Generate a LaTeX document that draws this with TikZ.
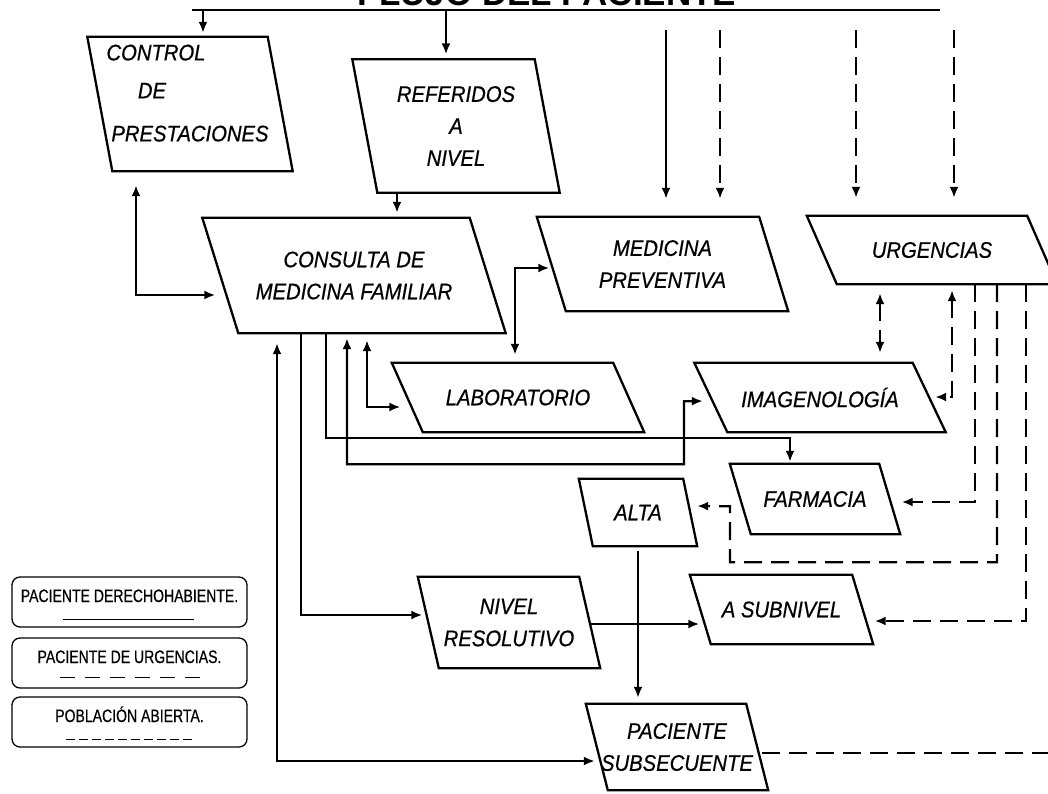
\documentclass[tikz,border=0pt]{standalone}
\usepackage{fontspec}
\setmainfont{Liberation Sans}
\newfontfamily\boxfont{Liberation Sans}[FakeStretch=0.9, FakeBold=0.6]
\newfontfamily\keyfont{Liberation Sans}[FakeStretch=0.78, FakeBold=0.5]
\usetikzlibrary{arrows.meta}

\begin{document}
\begin{tikzpicture}[x=1pt, y=-1pt,
    box/.style={inner sep=0pt, align=center,
                font=\boxfont\itshape\fontsize{22.5}{32}\selectfont},
    key/.style={draw, rounded corners=8pt, line width=1.3pt,
                minimum width=235pt, minimum height=50pt,
                text height=13pt, text depth=13pt,
                font=\keyfont\fontsize{18}{20}\selectfont},
    line/.style={line width=2.2pt},
    arr/.style={line, -{Latex[length=11pt,width=9pt]}},
    dual/.style={line, {Latex[length=11pt,width=9pt]}-{Latex[length=11pt,width=9pt]}},
    dsh/.style={dash pattern=on 18pt off 9pt}]

    \useasboundingbox (0,0) rectangle (1048,793);
    \clip (0,0) rectangle (1048,793);

    % heading
    \node (title) [anchor=base, font=\bfseries\fontsize{35}{40}\selectfont] at (547,5) {FLUJO DEL PACIENTE};
    \coordinate (tl) at (192,10);
    \coordinate (tr) at (940,10);
    \draw[line width=2.6pt] (tl) -- (tr);

    % services
    \node (ctrl) [box, minimum width=180pt, minimum height=134pt] at (190,104)
      {\hspace*{-68pt}CONTROL\\[6pt]\hspace*{-76pt}DE\\[11pt]PRESTACIONES\\[-10pt]\mbox{}};
    \node (ref)  [box, minimum width=182pt, minimum height=133pt] at (456,126) {REFERIDOS\\A\\NIVEL};
    \node (cmf)  [box, minimum width=267pt, minimum height=115pt] at (354,275.5) {CONSULTA DE\\MEDICINA FAMILIAR};
    \node (mp)   [box, minimum width=222pt, minimum height=94pt] at (662.5,264) {MEDICINA\\PREVENTIVA};
    \node (urg)  [box, minimum width=220pt, minimum height=68pt] at (932,250) {URGENCIAS};
    \node (lab)  [box, minimum width=221pt, minimum height=69pt] at (518,397.5) {LABORATORIO};
    \node (img)  [box, minimum width=218pt, minimum height=69pt] at (820,397.5) {IMAGENOLOGÍA};
    \node (far)  [box, minimum width=149pt, minimum height=70pt] at (815,499) {FARMACIA};
    \node (alta) [box, minimum width=104pt, minimum height=67pt] at (638,512.5) {ALTA};
    \node (sub)  [box, minimum width=162pt, minimum height=69pt] at (781.5,609.5) {A SUBNIVEL};
    \node (nr)   [box, minimum width=161pt, minimum height=91pt] at (509,622.5) {NIVEL\\RESOLUTIVO};
    \node (ps)   [box, minimum width=160pt, minimum height=86pt] at (677,747) {PACIENTE\\SUBSECUENTE};

    % parallelogram outlines, slant in pt
    \foreach \n/\s in {ctrl/25, ref/25, cmf/36, mp/29, urg/30, lab/31, img/33,
                       far/21, alta/14, sub/21, nr/21, ps/22}
      \draw[line width=2.3pt, line join=miter]
        ([xshift=-0.5*\s]\n.north west) -- ([xshift=-0.5*\s]\n.north east)
        -- ([xshift=0.5*\s]\n.south east) -- ([xshift=0.5*\s]\n.south west) -- cycle;

    % legend
    \node (k1) [key] at (129.5,602) {PACIENTE DERECHOHABIENTE.};
    \node (k2) [key] at (129.5,663) {PACIENTE DE URGENCIAS.};
    \node (k3) [key] at (129.5,722) {POBLACIÓN ABIERTA.};
    \draw[line width=1.5pt] (k1.south) ++(-67,-8) -- ++(131,0);
    \draw[line width=1.5pt, dash pattern=on 15pt off 10pt] (k2.south) ++(-70,-11) -- ++(140,0);
    \draw[line width=1.5pt, dash pattern=on 9pt off 4pt] (k3.south) ++(-64,-8) -- ++(126,0);

    % entries from the top
    \coordinate (t1) at (203,10);
    \coordinate (t2) at (446,10);
    \draw[arr, shorten >=4pt] (t1) -- (t1 |- ctrl.north);
    \draw[arr, shorten >=5pt] (t2) -- (t2 |- ref.north);
    \draw[arr, shorten >=5pt] (ref.south -| 397,0) -- (cmf.north -| 397,0);
    \foreach \x/\n/\p in {666/mp/solid, 720/mp/dsh, 856/urg/dsh, 954/urg/dsh} {
      \coordinate (src) at (\x,30);
      \draw[arr, \p, shorten >=18pt] (src) -- (src |- \n.north);
    }

    % family medicine links
    \draw[dual, shorten <=14pt, shorten >=5pt] (ctrl.south -| 136,0) |- (cmf.west |- 0,295);
    \draw[dual, shorten <=10pt, shorten >=2pt] (cmf.south -| 277,0) |- (ps.west |- 0,761);
    \draw[arr, shorten >=6pt] (cmf.south -| 301,0) |- (nr.west |- 0,615);
    \draw[arr, shorten >=2pt] (cmf.south -| 326,0) -- ++(0,105) -| (far.north -| 790,0);
    \draw[dual, shorten <=5pt, shorten >=8pt] (cmf.south -| 347,0) -- ++(0,131) -| ++(337,-63) -- (img.west |- 0,401);
    \draw[dual, shorten <=7pt, shorten >=7pt] (cmf.south -| 367,0) |- (lab.west |- 0,407);
    \draw[dual, shorten <=8pt, shorten >=2pt] (lab.north -| 515,0) |- (mp.west |- 0,268);

    % emergency links
    \draw[dual, dsh, shorten <=9pt, shorten >=10pt] (urg.south -| 880,0) -- (img.north -| 880,0);
    \draw[dual, dsh, shorten <=6pt, shorten >=6pt] (urg.south -| 952,0) |- (img.east |- 0,397);
    \draw[arr, dsh, shorten >=12pt] (urg.south -| 975,0) |- (far.east |- 0,502);
    \draw[arr, dsh, shorten >=7pt] (urg.south -| 997,0) -- ++(0,278) -| ++(-267,-56) -- (alta.east |- 0,506);
    \draw[arr, dsh, shorten >=12pt] (urg.south -| 1026,0) |- (sub.east |- 0,621);
    \coordinate (rim) at (1048,753);
    \draw[line, dsh, shorten <=5pt] (ps.east |- rim) -- (rim);

    % discharge and resolution
    \draw[arr, shorten <=5pt, shorten >=6pt] (alta.south) -- (alta.south |- ps.north);
    \draw[arr, shorten >=1pt] (nr.east |- 0,624) -- (sub.west |- 0,624);
\end{tikzpicture}
\end{document}
